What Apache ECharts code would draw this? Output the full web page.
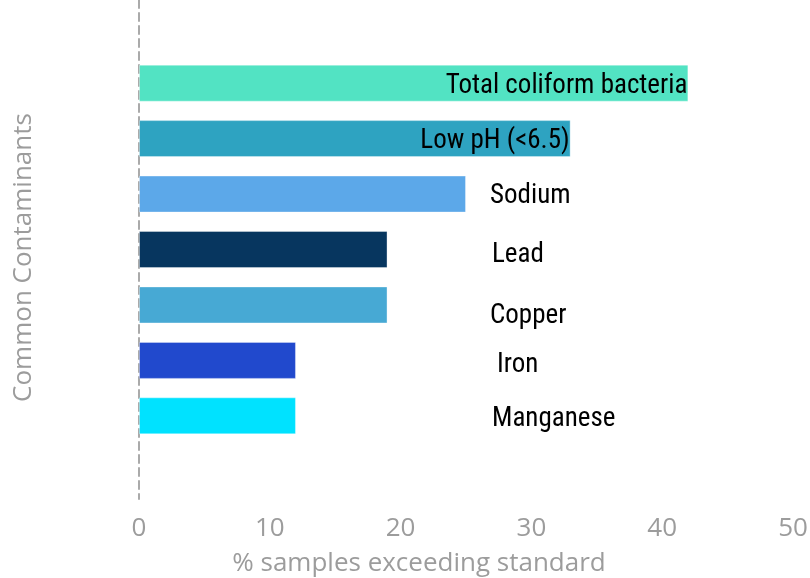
<!DOCTYPE html>
<html>
<head>
<meta charset="utf-8">
<script src="https://cdn.jsdelivr.net/npm/echarts@6/dist/echarts.min.js"></script>
<style>
html,body{margin:0;padding:0;background:#fff;}
#c{width:810px;height:578px;}
</style>
</head>
<body>
<div id="c"></div>
<script>
const categories = ['', 'Total coliform bacteria', 'Low pH (<6.5)', 'Sodium', 'Lead', 'Copper', 'Iron', 'Manganese', ''];
const values = [null, 42, 33, 25, 19, 19, 12, 12, null];
const xTicks = [0, 10, 20, 30, 40, 50];

const colors = [null, '#52e3c3', '#2ea3c1', '#5ca8e9', '#07365f', '#47a9d4', '#2149cd', '#00e2ff', null];
const labelPlace = [null, 'insideRight', 'insideRight', [351, 21], [353, 24], [351, 30], [358, 23], [353, 22], null];

const chart = echarts.init(document.getElementById('c'), null, {renderer: 'canvas'});
const data = values.map((v, i) => {
  if (v === null) return null;
  const pos = labelPlace[i];
  const label = pos === 'insideRight'
    ? {show: true, position: 'insideRight', distance: 1, offset: [0, 3]}
    : {show: true, position: pos, align: 'left', verticalAlign: 'middle'};
  return {value: v, itemStyle: {color: colors[i]}, label: label};
});

const axisFont = '"Open Sans", Lato, sans-serif';
chart.setOption({
  animation: false,
  grid: {left: 139, right: 17, top: 0, bottom: 79, containLabel: false, outerBoundsMode: 'none'},
  xAxis: {
    type: 'value', min: 0, max: 50, interval: 10,
    axisLine: {show: false}, axisTick: {show: false}, splitLine: {show: false},
    axisLabel: {
      color: '#9c9c9c', fontFamily: axisFont, fontSize: 26, margin: 17,
      formatter: v => xTicks.includes(v) ? String(v) : ''
    },
    name: '% samples exceeding standard', nameLocation: 'middle', nameGap: 52,
    nameTextStyle: {color: '#9c9c9c', fontFamily: axisFont, fontSize: 26, padding: [0, 94, 0, 0]}
  },
  yAxis: {
    type: 'category', inverse: true, data: categories,
    axisLine: {show: true, lineStyle: {color: '#aaa', width: 2, type: [8, 5]}},
    axisTick: {show: false}, axisLabel: {show: false}, splitLine: {show: false},
    name: 'Common Contaminants', nameLocation: 'middle', nameGap: 102, nameRotate: 90,
    nameTextStyle: {color: '#9c9c9c', fontFamily: axisFont, fontSize: 26, padding: [0, 0, 0, -16]}
  },
  series: [{
    type: 'bar', barWidth: 37, data: data,
    itemStyle: {borderColor: 'rgba(255,255,255,0.35)', borderWidth: 1},
    label: {color: '#000', fontFamily: '"Roboto Condensed", "DejaVu Sans Condensed", "Liberation Sans Narrow", Roboto, sans-serif', fontSize: 27, formatter: p => categories[p.dataIndex]}
  }]
});
</script>
</body>
</html>
